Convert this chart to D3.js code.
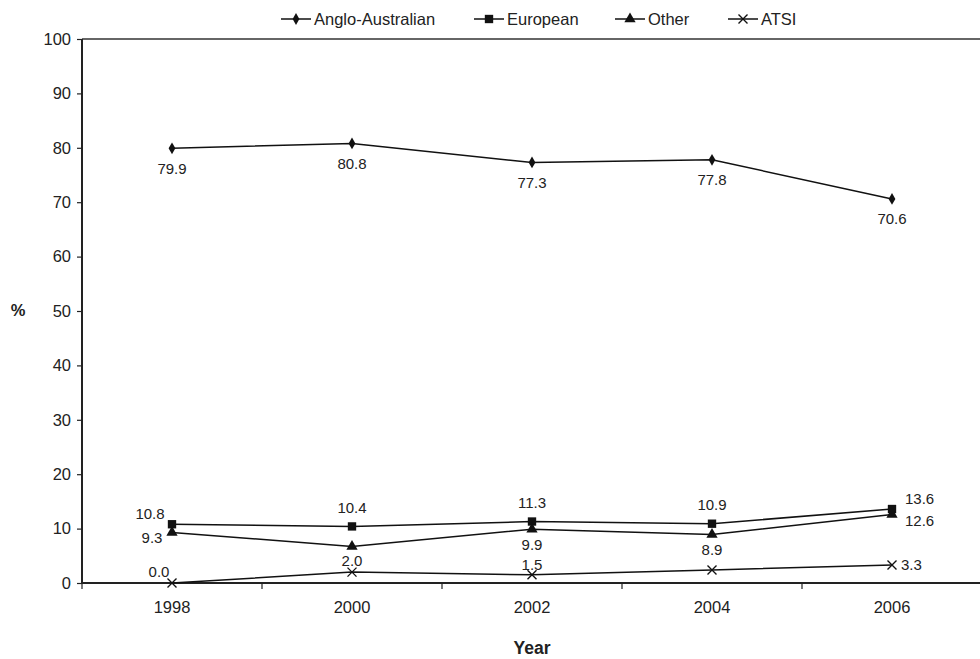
<!DOCTYPE html>
<html>
<head>
<meta charset="utf-8">
<script src="https://cdn.jsdelivr.net/npm/d3@7/dist/d3.min.js"></script>
<style>
  html, body { margin: 0; padding: 0; background: #fff; }
  svg { display: block; font-family: "Liberation Sans", Arial, Helvetica, sans-serif; }
</style>
</head>
<body>
<svg id="chart" width="980" height="659"></svg>
<script>
// Ethnic background share (%) by survey year
const years = ["1998", "2000", "2002", "2004", "2006"];
const angloAustralian = [79.9, 80.8, 77.3, 77.8, 70.6];
const european = [10.8, 10.4, 11.3, 10.9, 13.6];
const other = [9.3, 6.7, 9.9, 8.9, 12.6];
const atsi = [0.0, 2.0, 1.5, 2.4, 3.3];
const seriesNames = ["Anglo-Australian", "European", "Other", "ATSI"];
const yTicks = [0, 10, 20, 30, 40, 50, 60, 70, 80, 90, 100];

// which points carry a value label
const labelShown = [
  [true, true, true, true, true],
  [true, true, true, true, true],
  [true, false, true, true, true],
  [true, true, true, false, true]
];

const seriesValues = [angloAustralian, european, other, atsi];
const markerTypes = [d3.symbolDiamond, d3.symbolSquare, d3.symbolTriangle, d3.symbolX];
const markerSizes = [40, 70, 55, 0];

// label placement for each series and point: [dx, dy, anchor]
const labelPlace = [
  [[0, 20, "middle"], [0, 20, "middle"], [0, 20, "middle"], [0, 20, "middle"], [0, 20, "middle"]],
  [[-22, -10, "middle"], [0, -19, "middle"], [0, -19, "middle"], [0, -19, "middle"], [13, -10, "start"]],
  [[-20, 5, "middle"], [0, 16, "middle"], [0, 16, "middle"], [0, 15, "middle"], [13, 6, "start"]],
  [[-13, -11, "middle"], [0, -11, "middle"], [0, -10, "middle"], [0, -10, "middle"], [9, 0, "start"]]
];

const svg = d3.select("#chart");
const plotLeft = 82, plotRight = 982, plotTop = 39, plotBottom = 583;

const x = d3.scaleBand().domain(years).range([plotLeft, plotRight]);
const y = d3.scaleLinear().domain([0, 100]).range([plotBottom, plotTop]);
const cx = d => x(d) + x.bandwidth() / 2;

// top frame line
svg.append("line")
  .attr("x1", plotLeft).attr("x2", plotRight)
  .attr("y1", y(100)).attr("y2", y(100))
  .attr("stroke", "#333").attr("stroke-width", 1.3);

// y axis
const yAxis = svg.append("g")
  .attr("transform", `translate(${plotLeft},0)`)
  .call(d3.axisLeft(y).tickValues(yTicks).tickSize(5).tickPadding(6));
yAxis.select(".domain").attr("stroke", "#222").attr("stroke-width", 2)
  .attr("d", `M0,${y(100)}V${y(0)}`);
yAxis.selectAll(".tick line").attr("stroke", "#222").attr("stroke-width", 1.2);
yAxis.selectAll(".tick text").attr("font-size", 16.5).attr("fill", "#222")
  .attr("font-family", "Liberation Sans, Arial, sans-serif");

// x axis: labels centred in each band, ticks at band boundaries
const xAxis = svg.append("g")
  .attr("transform", `translate(0,${plotBottom})`)
  .call(d3.axisBottom(x).tickSize(0).tickPadding(18));
xAxis.select(".domain").attr("stroke", "#222").attr("stroke-width", 2)
  .attr("d", `M${plotLeft},0H${plotRight}`);
xAxis.selectAll(".tick text").attr("font-size", 16.5).attr("fill", "#222")
  .attr("font-family", "Liberation Sans, Arial, sans-serif");
const bounds = years.map(d => x(d)).concat([plotRight]);
xAxis.selectAll(".bound").data(bounds).enter().append("line")
  .attr("class", "bound")
  .attr("x1", d => d).attr("x2", d => d)
  .attr("y1", 0).attr("y2", 6)
  .attr("stroke", "#222").attr("stroke-width", 1.2);

// axis titles
svg.append("text").attr("x", 532).attr("y", 654)
  .attr("text-anchor", "middle").attr("font-weight", "bold").attr("font-size", 17.5)
  .attr("fill", "#222").text("Year");
svg.append("text").attr("x", 18).attr("y", 316)
  .attr("text-anchor", "middle").attr("font-weight", "bold").attr("font-size", 16.5)
  .attr("fill", "#222").text("%");

const line = d3.line().x((d, i) => cx(years[i])).y(d => y(d));

function drawMarker(g, type, size) {
  if (type === d3.symbolX) {
    const r = 4.5;
    g.append("path").attr("d", `M${-r},${-r}L${r},${r}M${-r},${r}L${r},${-r}`)
      .attr("stroke", "#111").attr("stroke-width", 1.4).attr("fill", "none");
  } else {
    g.append("path").attr("d", d3.symbol().type(type).size(size)())
      .attr("fill", "#111");
  }
}

seriesValues.forEach((vals, s) => {
  svg.append("path").datum(vals)
    .attr("d", line).attr("fill", "none")
    .attr("stroke", "#111").attr("stroke-width", 1.5);

  vals.forEach((v, i) => {
    const g = svg.append("g").attr("transform", `translate(${cx(years[i])},${y(v)})`);
    drawMarker(g, markerTypes[s], markerSizes[s]);
    if (labelShown[s][i]) {
      const p = labelPlace[s][i];
      g.append("text").attr("x", p[0]).attr("y", p[1])
        .attr("dy", "0.35em").attr("text-anchor", p[2])
        .attr("font-size", 15).attr("fill", "#222")
        .text(v.toFixed(1));
    }
  });
});

// legend
const legendX = [281, 474, 615, 728];
const legend = svg.append("g");
seriesNames.forEach((name, s) => {
  const g = legend.append("g").attr("transform", `translate(${legendX[s]},19)`);
  g.append("line").attr("x1", 0).attr("x2", 30).attr("y1", 0).attr("y2", 0)
    .attr("stroke", "#111").attr("stroke-width", 1.5);
  const m = g.append("g").attr("transform", "translate(15,0)");
  drawMarker(m, markerTypes[s], markerSizes[s]);
  g.append("text").attr("x", 33).attr("y", 0).attr("dy", "0.35em")
    .attr("font-size", 16.5).attr("fill", "#222").text(name);
});
</script>
</body>
</html>
